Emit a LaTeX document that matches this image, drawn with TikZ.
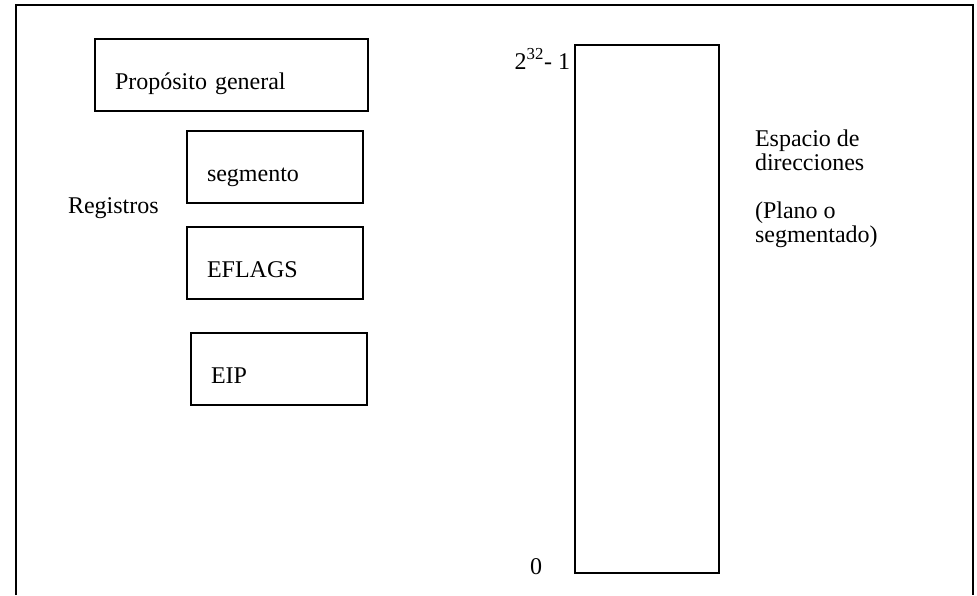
\documentclass[tikz,border=0pt]{standalone}
\usepackage{fontspec}
\setmainfont{Liberation Serif}
\usetikzlibrary{positioning}
\tikzset{
regbox/.style={draw=black,line width=1.6pt,anchor=north west,outer sep=0pt,
minimum height=72pt,inner xsep=20pt,inner ysep=0pt,text height=28pt,text depth=0pt,align=left},
membox/.style={draw=black,line width=1.6pt,anchor=north west,outer sep=0pt,
minimum width=144pt,minimum height=528pt,inner sep=0pt},
outerframe/.style={draw=black,line width=2pt},
plain/.style={inner sep=0pt,outer sep=0pt,align=left}
}

\begin{document}
\begin{tikzpicture}[x=1pt,y=-1pt,every node/.style={font=\fontsize{24}{24}\selectfont}]
\useasboundingbox (0,0) rectangle (977,595);
% frame (open at the bottom)
\draw[outerframe] (16,595) -- (16,5) -- (973,5) -- (973,595);
% registers
\node[regbox,text width=233pt] (gen) at (95,39) {Propósito general};
\node[regbox,text width=136pt] (seg) at (187,131) {segmento};
\node[regbox,text width=136pt] (flags) at (187,227) {EFLAGS};
\node[regbox,text width=136pt] (eip) at (191,333) {EIP};
\node[plain,anchor=base west] (regs) at (68,213) {Registros};
% address space
\node[membox] (mem) at (575,45) {};
\node[plain,anchor=base east] (top) at (570,69) {2\textsuperscript{32}- 1};
\node[plain,anchor=base west] (bot) at (530,574) {0};
% base = last line here
\node[plain,anchor=base west] (space) at (755,242) {Espacio de\\direcciones\\[24pt](Plano o\\segmentado)};
\end{tikzpicture}
\end{document}
